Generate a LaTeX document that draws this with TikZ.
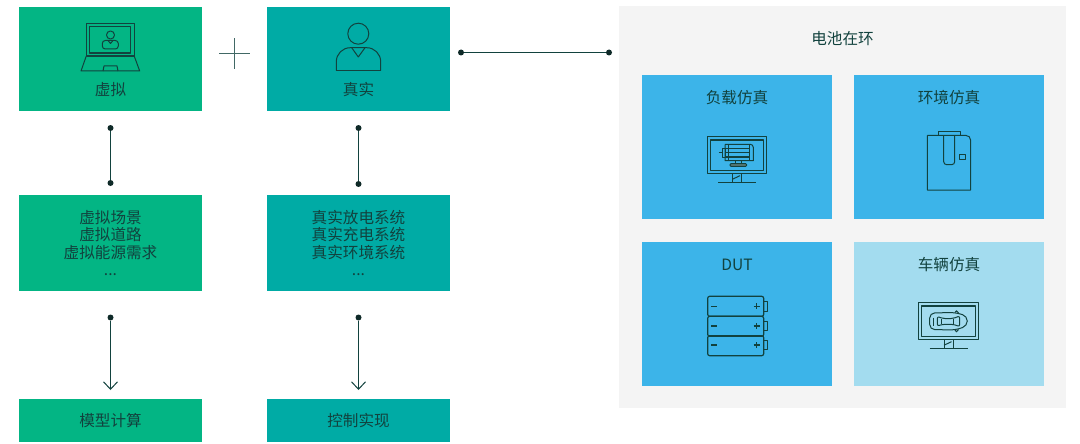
\documentclass[tikz,border=0pt]{standalone}
\usepackage{fontspec}
\newfontfamily\cjk{Noto Sans CJK SC}
\usetikzlibrary{arrows.meta,positioning}
\definecolor{virtgreen}{RGB}{3,181,132}
\definecolor{realteal}{RGB}{0,171,165}
\definecolor{simblue}{RGB}{60,180,233}
\definecolor{simlight}{RGB}{163,220,239}
\definecolor{panelgray}{RGB}{244,244,244}
\definecolor{inkdark}{RGB}{18,66,62}
\definecolor{dotdark}{RGB}{15,42,40}
\tikzset{
  flowbox/.style={fill=#1, minimum width=183pt, inner sep=0pt, outer sep=0pt, align=center,
    text=inkdark, font=\cjk\fontsize{15.6}{17.7}\selectfont},
  simbox/.style={fill=#1, minimum width=190pt, minimum height=144pt, inner sep=0pt, outer sep=0pt},
  boxlabel/.style={inner sep=0pt, text=inkdark, font=\cjk\fontsize{15.6}{17.7}\selectfont},
  dotnode/.style={circle, fill=dotdark, minimum size=6pt, inner sep=0pt, outer sep=0pt},
  link/.style={draw=inkdark, line width=1pt},
  arrow/.style={link, -{Straight Barb[length=7.5pt,width=14pt]}},
  icon/.style={draw=inkdark, line width=1pt, line join=round},
  monitorpic/.pic={
    \draw[icon, line width=1.2pt] (-29.8,-18.5) rectangle (29.8,18.5);
    \draw[icon, line width=1.2pt] (-26.7,-15.2) rectangle (26.7,15.3);
    \draw[icon] (-4.5,18.5) -- (-4.5,27.5) (4.5,18.5) -- (4.5,27.5);
    \draw[icon] (-4.5,24) -- (3,20.5);
    \draw[icon, line width=1.2pt] (-19,27.5) -- (19,27.5);
  }
}
\begin{document}
\begin{tikzpicture}[x=1pt, y=-1pt]
  \useasboundingbox (0,0) rectangle (1080,444);
  % left and right columns
  \node[flowbox=virtgreen, minimum height=104pt] (virt) at (110.5,59) {};
  \node[flowbox=realteal, minimum height=104pt, right=65pt of virt] (real) {};
  \node[flowbox=virtgreen, minimum height=96pt, below=84pt of virt] (virtlist) {虚拟场景\\虚拟道路\\虚拟能源需求\\[-0.5pt]...};
  \node[flowbox=realteal, minimum height=96pt, below=84pt of real] (reallist) {真实放电系统\\真实充电系统\\真实环境系统\\[-0.5pt]...};
  \node[flowbox=virtgreen, minimum height=43pt, below=108pt of virtlist] (compute) {模型计算};
  \node[flowbox=realteal, minimum height=43pt, below=108pt of reallist] (control) {控制实现};
  \node[boxlabel] (virtlabel) at (110.5,89.5) {虚拟};
  \node[boxlabel] (reallabel) at (358.5,89.5) {真实};
  % battery panel
  \node[fill=panelgray, minimum width=447pt, minimum height=402pt, inner sep=0pt, outer sep=0pt] (panel) at (842.5,207) {};
  \node[boxlabel] (paneltitle) at (842.5,38.5) {电池在环};
  \node[simbox=simblue] (load) at (737,147) {};
  \node[simbox=simblue, right=22pt of load] (envir) {};
  \node[simbox=simblue, below=23pt of load] (dut) {};
  \node[simbox=simlight, below=23pt of envir] (vehicle) {};
  \node[boxlabel] (loadlabel) at (737,97.5) {负载仿真};
  \node[boxlabel] (envirlabel) at (949,97.5) {环境仿真};
  \node[boxlabel] (dutlabel) at (737,264.5) {DUT};
  \node[boxlabel] (vehiclelabel) at (949,264.5) {车辆仿真};
  % connectors
  \node[dotnode, below=14pt of virt] (virtdota) {};
  \node[dotnode, below=49pt of virtdota] (virtdotb) {};
  \node[dotnode, below=14pt of real] (realdota) {};
  \node[dotnode, below=50pt of realdota] (realdotb) {};
  \node[dotnode, below=23.5pt of virtlist] (virtdotc) {};
  \node[dotnode, below=23.5pt of reallist] (realdotc) {};
  \coordinate[above=9pt of compute] (virtend);
  \coordinate[above=9pt of control] (realend);
  \node[dotnode] (linkstart) at (461,52.5) {};
  \node[dotnode, right=142pt of linkstart] (linkend) {};
  \draw[link] (virtdota) -- (virtdotb);
  \draw[link] (realdota) -- (realdotb);
  \draw[link] (linkstart) -- (linkend);
  \draw[arrow] (virtdotc) -- (virtend);
  \draw[arrow] (realdotc) -- (realend);
  % plus sign
  \draw[draw=inkdark!80, line width=0.8pt] (219,53.7) -- (249.7,53.7) (234.3,38.3) -- (234.3,69);
  % laptop
  \draw[icon, line width=1.2pt] (86.3,23.3) rectangle (134.2,56);
  \draw[icon, line width=1.2pt] (89.7,26.3) rectangle (130.7,53);
  \draw[icon] (86.3,56) -- (81,71) -- (139.7,71) -- (134.2,56);
  \draw[icon] (103,71) -- (104,66) -- (117,66) -- (118,71);
  \draw[icon] (110.5,35) circle (4);
  \draw[icon, rounded corners=3pt] (102.3,49) -- (102.3,40.5) -- (118.3,40.5) -- (118.3,49) -- cycle;
  \draw[icon] (108,40.5) -- (110.5,43.5) -- (113,40.5);
  % person
  \draw[icon] (358.3,33.7) circle (10.5);
  \draw[icon, rounded corners=14pt] (336.3,70.7) -- (336.3,47.7) -- (380.7,47.7) -- (380.7,70.7);
  \draw[icon] (336.3,70.7) -- (380.7,70.7);
  \draw[icon] (351.7,47.7) -- (358.3,57) -- (365,47.7);
  % motor monitor
  \pic at (737,155.2) {monitorpic};
  \draw[icon] (725,144.3) -- (725,160.7) -- (753.3,160.7) [rounded corners=3pt] -- (753.3,144.3) [sharp corners] -- (725,144.3);
  \draw[icon] (728,144.3) -- (728,160.7) (749,144.3) -- (749,160.7);
  \draw[icon, line width=1.2pt] (725,148.3) -- (749,148.3) (725,152.7) -- (749,152.7) (725,157) -- (749,157);
  \draw[icon] (722.7,148.3) rectangle (725,157.3);
  \draw[icon, line width=1.2pt] (718.7,152.7) -- (722.7,152.7);
  \draw[icon] (735,160.7) -- (735,163.7) (741.7,160.7) -- (741.7,163.7);
  \draw[icon, fill=inkdark!70, rounded corners=1pt] (730,163.7) rectangle (746.7,166.3);
  % environment chamber
  \draw[icon] (927.3,135.3) -- (927.3,190) -- (970.7,190) [rounded corners=5pt] -- (970.7,135.3) [sharp corners] -- (927.3,135.3);
  \draw[icon] (938,135.3) -- (938,131) -- (960,131) -- (960,135.3);
  \draw[icon, rounded corners=3pt] (943.7,135.3) -- (943.7,164.7) -- (954.7,164.7) -- (954.7,135.3);
  \draw[icon] (959.3,154.3) rectangle (965.3,159.3);
  % batteries
  \foreach \top/\mid in {296.3/306.3, 316.3/326, 335.7/345}{
    \draw[icon, line width=1.2pt, rounded corners=2pt] (707.7,\top) rectangle (763.7,\top+20);
    \draw[icon] (763.7,\mid-4.8) -- (767.3,\mid-4.8) -- (767.3,\mid+4.8) -- (763.7,\mid+4.8);
    \draw[icon, line width=1.2pt] (711.3,\mid) -- (717.3,\mid) (753.7,\mid) -- (759.7,\mid) (756.7,\mid-3) -- (756.7,\mid+3);
  }
  % car monitor
  \pic at (948.5,321.2) {monitorpic};
  \draw[icon, rounded corners=5pt] (929.7,313) -- (955,312.5) -- (967.3,316) -- (967.3,326) -- (955,330) -- (929.7,329.5) -- cycle;
  \draw[icon, rounded corners=2pt] (937.3,316.5) -- (943,318.5) -- (953,318.5) -- (959.7,316) -- (959.7,326.5) -- (953,324.3) -- (943,324.3) -- (937.3,326) -- cycle;
  \draw[icon] (941.7,318.5) -- (941.7,324.3) (953.3,318.5) -- (953.3,324.3);
  \draw[icon] (933.3,317.5) -- (933.3,325.5);
  \draw[icon] (955,312.5) -- (956.5,310.8) -- (958.5,313) (955,330) -- (956.5,331.8) -- (958.5,329.5);
\end{tikzpicture}
\end{document}
